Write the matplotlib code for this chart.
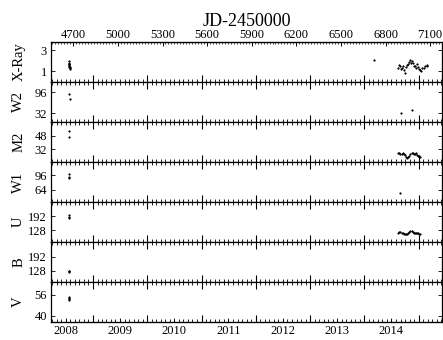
import datetime as dt
import matplotlib
matplotlib.use("Agg")
import matplotlib.pyplot as plt
from matplotlib.ticker import FixedLocator, MultipleLocator, NullFormatter

plt.rcParams["font.family"] = ["Liberation Serif", "DejaVu Serif"]
plt.rcParams["mathtext.fontset"] = "stix"

# ---- light-curve data (JD-2450000, flux) ----
xray_jd = [4668, 4669, 4670, 4671, 4672, 4673, 4674, 4676, 4678, 4680,
           6722,
           6884, 6890, 6897, 6903, 6908, 6915, 6922, 6931, 6938, 6945,
           6953, 6958, 6964, 6970, 6976, 6986, 6992, 6998, 7005, 7012,
           7020, 7026, 7031, 7040, 7048, 7058, 7066, 7076, 7082]
xray_val = [1.95, 1.85, 1.7, 1.6, 1.75, 1.5, 1.4, 1.3, 1.45, 1.2,
            2.1,
            1.3, 1.6, 1.5, 1.2, 1.35, 1.55, 1.1, 0.85, 1.4, 1.6,
            1.7, 1.9, 2.1, 1.8, 1.95, 1.85, 1.5, 1.55, 1.3, 1.7,
            1.4, 1.2, 1.15, 1.0, 1.35, 1.3, 1.5, 1.6, 1.55]

w2_jd = [4672, 4676, 6905, 6980]
w2_val = [92, 77, 34, 43]

m2_jd = [4674, 4671, 6886, 6893, 6900, 6908, 6915, 6922, 6930, 6938, 6945,
         6952, 6960, 6968, 6975, 6983, 6990, 6998, 7005, 7012, 7020, 7028, 7035]
m2_val = [54, 46, 27, 27, 26, 26, 27, 26, 25, 23, 22, 23, 24, 26, 28, 27,
          26, 26, 27, 25, 24, 24, 23]

w1_jd = [4674, 4672, 4670, 6900]
w1_val = [98, 93, 89, 56]

u_jd = [4672, 4674, 4670, 6886, 6893, 6900, 6908, 6915, 6922, 6930, 6938,
        6945, 6952, 6960, 6968, 6975, 6983, 6990, 6998, 7005, 7012, 7020,
        7028, 7035]
u_val = [195, 188, 182, 118, 119, 120, 118, 116, 113, 111, 112, 114, 118,
         121, 123, 124, 121, 118, 118, 117, 116, 115, 114, 113]

b_jd = [4672, 4674, 4670]
b_val = [128, 125, 121]

v_jd = [4671, 4672, 4673, 4674]
v_val = [54.7, 53.8, 53.0, 52.2]

panels = [
    ("X-Ray", xray_jd, xray_val, (0, 3.8), [1, 3]),
    ("W2", w2_jd, w2_val, (5, 128), [32, 96]),
    ("M2", m2_jd, m2_val, (17, 64), [32, 48]),
    ("W1", w1_jd, w1_val, (36, 126), [64, 96]),
    ("U", u_jd, u_val, (76, 255), [128, 192]),
    ("B", b_jd, b_val, (77, 259), [128, 192]),
    ("V", v_jd, v_val, (35, 66), [40, 56]),
]

years = list(range(2008, 2015))
top_ticks = list(range(4700, 7101, 300))


def jd_of(date):
    """JD-2450000 of a calendar date at 0h UT."""
    mjd = (date - dt.datetime(1858, 11, 17)).days
    return mjd - 49999.5


year_starts = [jd_of(dt.datetime(y, 1, 1)) for y in range(2008, 2016)]
month_starts = [jd_of(dt.datetime(y, m, 1)) for y in range(2008, 2016) for m in range(1, 13)]
mid_years = [jd_of(dt.datetime(y, 7, 1)) for y in years]

fig, axes = plt.subplots(len(panels), 1, sharex=True, figsize=(4.43, 3.40), dpi=100)
fig.subplots_adjust(left=51 / 443, right=442 / 443, top=1 - 42 / 340,
                    bottom=1 - 322 / 340, hspace=0)

for i, (ax, (name, jd, val, ylim, yt)) in enumerate(zip(axes, panels)):
    ax.plot(jd, val, ls="none", marker="o", ms=1.2, mfc="black", mec="black", mew=0.3)
    ax.set_xlim(4550, 7180)
    ax.set_ylim(*ylim)
    ax.set_yticks(yt)
    ax.set_ylabel(name, fontsize=10.5)
    ax.yaxis.set_label_coords(-0.066, 0.5)
    ax.xaxis.set_major_locator(FixedLocator(year_starts))
    ax.xaxis.set_minor_locator(FixedLocator(month_starts))
    ax.xaxis.set_major_formatter(NullFormatter())
    ax.tick_params(axis="x", which="major", direction="in", length=5, width=0.8,
                   top=(i > 0), bottom=True, labelbottom=False)
    ax.tick_params(axis="x", which="minor", direction="in", length=2, width=0.6,
                   top=(i > 0), bottom=True)
    ax.tick_params(axis="y", which="major", direction="in", length=3, width=0.6,
                   left=True, right=True, labelsize=9, pad=3)
    for s in ax.spines.values():
        s.set_linewidth(0.9)

# calendar-year labels along the bottom
yax = axes[-1].secondary_xaxis("bottom")
yax.set_xticks(mid_years)
yax.set_xticklabels([str(y) for y in years])
yax.tick_params(direction="in", length=3, width=0.6, labelsize=9, pad=2)

# Julian-date scale along the top
jax = axes[0].secondary_xaxis("top")
jax.set_xticks(top_ticks)
jax.xaxis.set_minor_locator(MultipleLocator(20))
jax.tick_params(which="major", direction="in", length=3, width=0.7, labelsize=9, pad=1)
jax.tick_params(which="minor", direction="in", length=1.5, width=0.5)
jax.set_xlabel("JD-2450000", fontsize=13, labelpad=2)

fig.savefig("out.png", dpi=100)
